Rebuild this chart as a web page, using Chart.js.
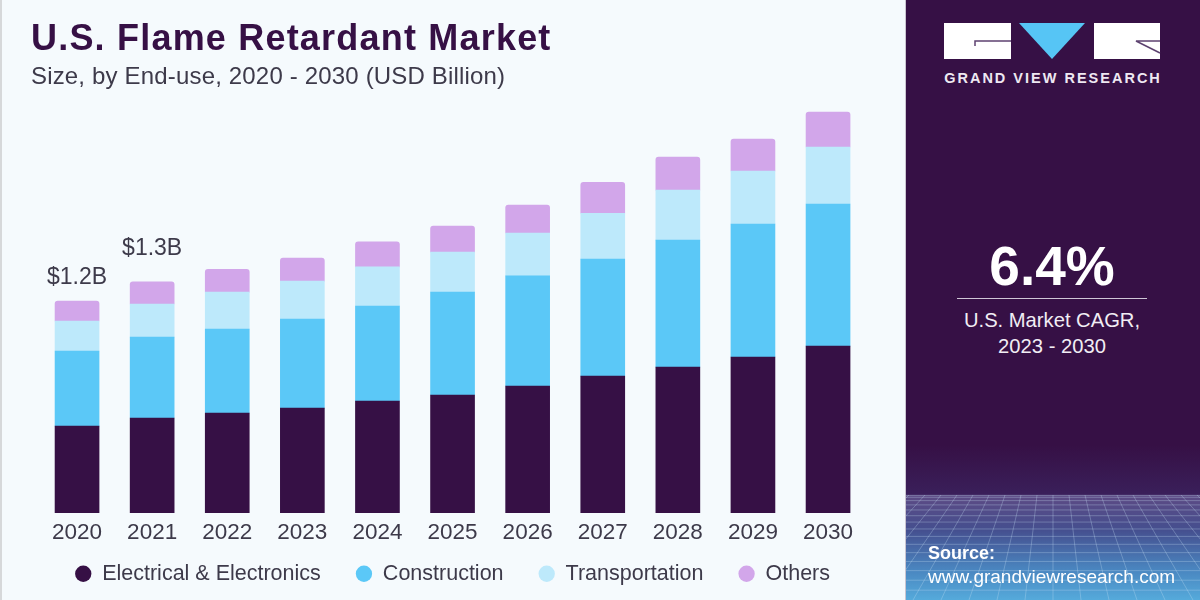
<!DOCTYPE html>
<html>
<head>
<meta charset="utf-8">
<title>U.S. Flame Retardant Market</title>
<script src="https://cdn.jsdelivr.net/npm/chart.js@4"></script>
<style>
  html, body { margin: 0; padding: 0; }
  body { width: 1200px; height: 600px; overflow: hidden; position: relative; background: #f5fafd; font-family: "Liberation Sans", sans-serif; }
  #edge { position: absolute; left: 0; top: 0; width: 2px; height: 600px; background: #d6d8da; }
  #chartBox { position: absolute; left: 0; top: 0; width: 1200px; height: 600px; }
  #title { position: absolute; left: 31px; top: 19px; font-size: 36px; line-height: 38px; font-weight: bold; color: #361045; letter-spacing: 1.2px; white-space: nowrap; }
  #subtitle { position: absolute; left: 31px; top: 63px; font-size: 24px; line-height: 26px; color: #3d3a4a; letter-spacing: 0.17px; white-space: nowrap; }
  #panel { position: absolute; left: 906px; top: 0; width: 294px; height: 600px; border-left: 0; background: linear-gradient(#361045 0, #361045 445px, #3a1f5a 494px, #5c4a84 496px, #454f8f 530px, #4a86c0 570px, #55aadb 600px); }
  #panelEdge { position: absolute; left: 905px; top: 0; width: 1px; height: 600px; background: #c9c4d0; }
  #grid { position: absolute; left: 0; top: 495px; }
  #logo { position: absolute; left: 0; top: 0; }
  .panelText { position: absolute; left: 0; width: 292px; text-align: center; color: #fff; white-space: nowrap; }
  #brand { top: 70px; left: 38px; width: 218px; font-size: 14.5px; line-height: 17px; font-weight: bold; letter-spacing: 2px; color: #eee8f2; }
  #cagr { top: 236px; font-size: 55px; line-height: 60px; font-weight: bold; }
  #rule { position: absolute; left: 51px; top: 298px; width: 190px; height: 1px; background: #cfc6d6; }
  #cagrLabel { top: 307px; font-size: 20.2px; line-height: 26px; color: #f1edf4; }
  #source { position: absolute; left: 22px; top: 542px; color: #fff; font-size: 19px; line-height: 23px; white-space: nowrap; }
  #source b { display: block; font-size: 18px; }
</style>
</head>
<body>
<div id="edge"></div>
<div id="chartBox"><canvas id="marketChart" width="1200" height="600"></canvas></div>
<div id="title">U.S. Flame Retardant Market</div>
<div id="subtitle">Size, by End-use, 2020 - 2030 (USD Billion)</div>
<div id="panelEdge"></div>
<div id="panel">
  <canvas id="grid" width="294" height="105"></canvas>
  <svg id="logo" width="294" height="70">
    <rect x="38" y="23" width="67" height="36" fill="#fff"/>
    <path d="M69 46V41H105" fill="none" stroke="#5d4270" stroke-width="1.5"/>
    <polygon points="113,23 179,23 146,59" fill="#56c5f5"/>
    <rect x="188" y="23" width="66" height="36" fill="#fff"/>
    <path d="M254 41H230L254 53" fill="none" stroke="#5d4270" stroke-width="1.5"/>
  </svg>
  <div class="panelText" id="brand">GRAND VIEW RESEARCH</div>
  <div class="panelText" id="cagr">6.4%</div>
  <div id="rule"></div>
  <div class="panelText" id="cagrLabel">U.S. Market CAGR,<br>2023 - 2030</div>
  <div id="source"><b>Source:</b>www.grandviewresearch.com</div>
</div>
<script>
  const years = ["2020", "2021", "2022", "2023", "2024", "2025", "2026", "2027", "2028", "2029", "2030"];
  const electrical = [0.492, 0.538, 0.566, 0.594, 0.634, 0.668, 0.719, 0.775, 0.826, 0.883, 0.945];
  const construction = [0.425, 0.458, 0.475, 0.504, 0.538, 0.583, 0.623, 0.662, 0.719, 0.753, 0.804];
  const transportation = [0.170, 0.187, 0.209, 0.215, 0.221, 0.226, 0.243, 0.260, 0.283, 0.300, 0.323];
  const others = [0.113, 0.125, 0.130, 0.130, 0.142, 0.147, 0.158, 0.175, 0.187, 0.181, 0.198];
  const totalLabels = ["$1.2B", "$1.3B"];

  const textColor = "#3d3a4a";
  const fontFamily = "'Liberation Sans', sans-serif";

  // $ labels sit above the first two stacks only
  const totalLabelPlugin = {
    id: "totalLabels",
    afterDatasetsDraw(chart) {
      const { ctx, scales } = chart;
      const gaps = [12, 22];
      ctx.save();
      ctx.font = "23px " + fontFamily;
      ctx.fillStyle = textColor;
      ctx.textAlign = "center";
      ctx.textBaseline = "bottom";
      totalLabels.forEach((label, i) => {
        const total = electrical[i] + construction[i] + transportation[i] + others[i];
        ctx.fillText(label, scales.x.getPixelForValue(i), scales.y.getPixelForValue(total) - gaps[i]);
      });
      ctx.restore();
    }
  };

  // labels.padding also pads the legend vertically, so reserve less room
  // for it in the layout and move its box up afterwards
  const legendBoxPlugin = {
    id: "legendBox",
    beforeLayout(chart) {
      const legend = chart.legend;
      if (legend.pinned) return;
      const fit = legend.fit;
      legend.fit = function () {
        fit.call(this);
        this.height = 51;
      };
      legend.pinned = true;
    },
    afterLayout(chart) {
      const legend = chart.legend;
      legend.top = 528;
      legend.bottom = 600;
      legend.height = 72;
    }
  };

  function makeSeries(label, data, color, radius) {
    return {
      label: label,
      data: data,
      backgroundColor: color,
      borderWidth: 0,
      borderRadius: radius ? { topLeft: radius, topRight: radius } : 0,
      borderSkipped: false,
      barThickness: 44,
      stack: "total"
    };
  }

  new Chart(document.getElementById("marketChart"), {
    type: "bar",
    data: {
      labels: years,
      datasets: [
        makeSeries("Electrical & Electronics", electrical, "#361045", 0),
        makeSeries("Construction", construction, "#5bc8f7", 0),
        makeSeries("Transportation", transportation, "#bde9fb", 0),
        makeSeries("Others", others, "#d2a6ea", 3)
      ]
    },
    options: {
      responsive: false,
      animation: false,
      layout: { padding: { left: 39.5, right: 334.4, top: 100, bottom: 0 } },
      scales: {
        x: {
          stacked: true,
          grid: { display: false, drawTicks: false },
          border: { display: false },
          ticks: { color: textColor, font: { family: fontFamily, size: 22.5 }, padding: 6, maxRotation: 0, autoSkip: false },
          afterFit(scale) { scale.height = 36; }
        },
        y: { stacked: true, display: false, min: 0, max: 2.338 }
      },
      plugins: {
        tooltip: { enabled: false },
        legend: {
          position: "bottom",
          onClick: null,
          labels: {
            usePointStyle: true,
            pointStyle: "circle",
            pointStyleWidth: 16.3,
            boxHeight: 11.5,
            padding: 35,
            color: textColor,
            font: { family: fontFamily, size: 21.5 }
          }
        }
      }
    },
    plugins: [totalLabelPlugin, legendBoxPlugin]
  });

  // perspective grid at the foot of the side panel (decoration only)
  const grid = document.getElementById("grid").getContext("2d");
  grid.strokeStyle = "rgba(200,225,245,0.3)";
  grid.lineWidth = 1;
  for (let i = 0; i < 15; i++) {
    const y = 105 * Math.pow(i / 15, 1.5) + 0.5;
    grid.beginPath();
    grid.moveTo(0, y);
    grid.lineTo(294, y);
    grid.stroke();
  }
  for (let i = -20; i <= 20; i++) {
    grid.beginPath();
    grid.moveTo(147 + i * 16, 0);
    grid.lineTo(147 + i * 28, 105);
    grid.stroke();
  }
</script>
</body>
</html>
